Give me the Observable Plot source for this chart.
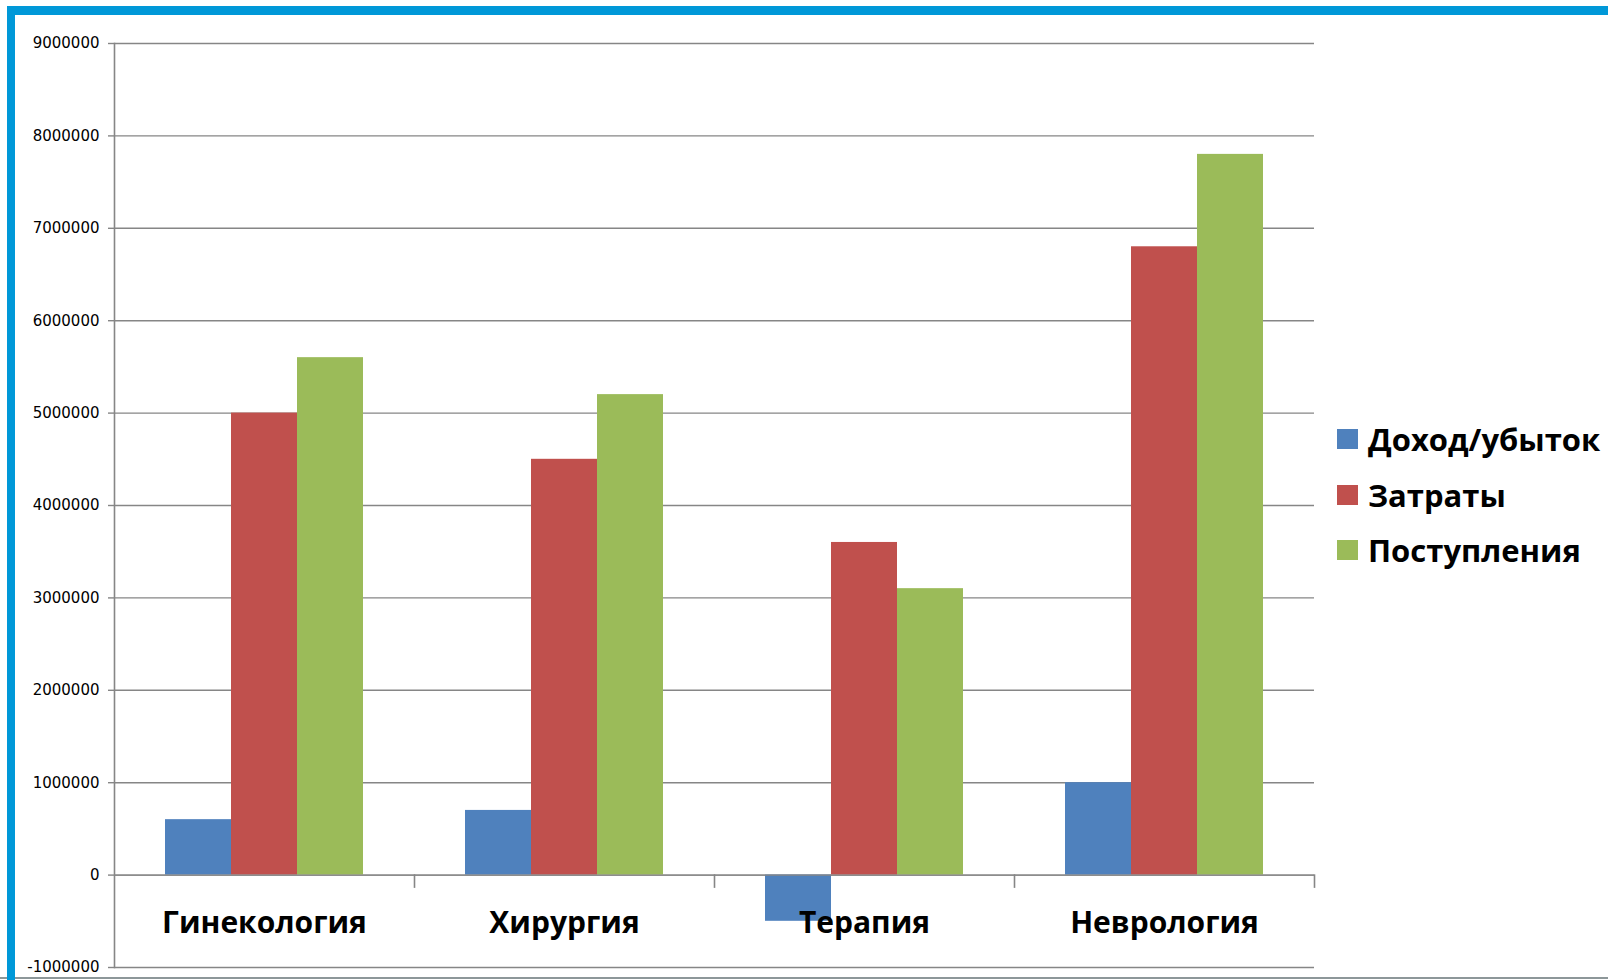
<!DOCTYPE html>
<html>
<head>
<meta charset="utf-8">
<script src="https://cdn.jsdelivr.net/npm/d3@7"></script>
<script src="https://cdn.jsdelivr.net/npm/@observablehq/plot@0.6"></script>
<style>
  html, body { margin: 0; padding: 0; background: #fff; width: 1608px; height: 980px; overflow: hidden; }
  #chart { position: absolute; left: 0; top: 0; }
  #frame { position: absolute; left: 7px; top: 6px; width: 2000px; height: 2000px;
           border-top: 9px solid #0098d8; border-left: 8px solid #0098d8; pointer-events: none; }
  #bottomline { position: absolute; left: 0; top: 977px; width: 1608px; height: 2px; background: #8d9799; }
  #legend { position: absolute; left: 1337px; top: 419px; font-family: "Open Sans", sans-serif;
            font-weight: 700; font-size: 31px; color: #000; }
  .row { display: flex; align-items: center; height: 40px; margin-bottom: 15.5px; }
  .sw { width: 21px; height: 20px; margin-right: 10px; flex: none; }
</style>
</head>
<body>
<div id="chart"></div>
<div id="legend"></div>
<div id="bottomline"></div>
<div id="frame"></div>
<script>
const categories = ["Гинекология", "Хирургия", "Терапия", "Неврология"];
const series = ["Доход/убыток", "Затраты", "Поступления"];
const colors = ["#4f81bd", "#c0504d", "#9bbb59"];
const income = [600000, 700000, -500000, 1000000];
const costs = [5000000, 4500000, 3600000, 6800000];
const receipts = [5600000, 5200000, 3100000, 7800000];
const yTicks = [-1000000, 0, 1000000, 2000000, 3000000, 4000000, 5000000, 6000000, 7000000, 8000000, 9000000];
const yDomain = [-1000000, 9000000];

const valuesBySeries = [income, costs, receipts];
const rows = [];
categories.forEach((c, i) => {
  series.forEach((s, j) => rows.push({category: c, series: s, value: valuesBySeries[j][i]}));
});

const W = 1330, H = 980, mT = 43, mB = 13, mL = 113, mR = 16;
const innerH = H - mT - mB;
const zeroOffset = (yDomain[1] - 0) / (yDomain[1] - yDomain[0]) * innerH;
const tickLen = 12;
const gridColor = "#868686";

const chart = Plot.plot({
  width: W, height: H,
  marginTop: mT, marginBottom: mB, marginLeft: mL, marginRight: mR,
  style: {fontFamily: "DejaVu Sans, sans-serif", color: "#000", background: "transparent"},
  fx: {domain: categories, padding: 0, axis: null, label: null},
  x: {domain: series, paddingInner: 0, paddingOuter: 0.75, axis: null, label: null},
  y: {domain: yDomain, axis: null, label: null},
  color: {domain: series, range: colors},
  marks: [
    Plot.gridY(yTicks, {stroke: gridColor, strokeOpacity: 1, strokeWidth: 1.4}),
    Plot.axisY(yTicks, {tickSize: 6, tickPadding: 9, tickFormat: d => String(d), fontSize: 15, label: null,
                        stroke: gridColor, strokeWidth: 1.4, fill: "#000"}),
    Plot.frame({anchor: "left", facetAnchor: "left", stroke: gridColor, strokeWidth: 1.6}),
    Plot.barY(rows, {fx: "category", x: "series", y: "value", fill: "series"}),
    Plot.ruleY([0], {stroke: gridColor, strokeWidth: 1.4}),
    Plot.frame({anchor: "right", insetTop: zeroOffset, insetBottom: innerH - zeroOffset - tickLen,
                stroke: gridColor, strokeWidth: 1.6}),
    Plot.text(categories, {fx: d => d, text: d => d, frameAnchor: "bottom", dy: -35,
                           fontFamily: "Open Sans, sans-serif", fontWeight: 700, fontSize: 30, fill: "#000"})
  ]
});
document.getElementById("chart").appendChild(chart);

const legend = document.getElementById("legend");
series.forEach((s, i) => {
  const row = document.createElement("div");
  row.className = "row";
  const sw = document.createElement("div");
  sw.className = "sw";
  sw.style.background = colors[i];
  const t = document.createElement("span");
  t.textContent = s;
  row.appendChild(sw);
  row.appendChild(t);
  legend.appendChild(row);
});
</script>
</body>
</html>
